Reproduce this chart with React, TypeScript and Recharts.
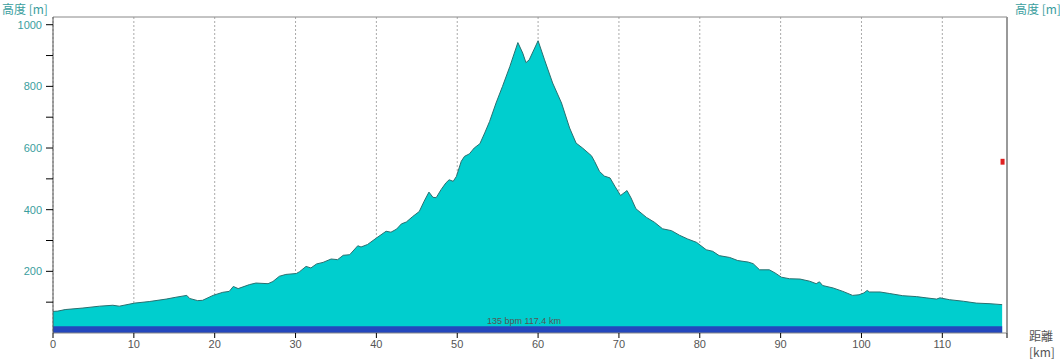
import React from 'react'
import {
  ComposedChart,
  Area,
  XAxis,
  YAxis,
  CartesianGrid,
  ReferenceArea,
  ReferenceLine,
} from 'recharts'

// distance along the route [km]
const distanceKm = [
  0, 0.6, 1.5, 3.7, 5.75, 7.4, 8.2, 10.1, 11.9, 14, 15.2, 16.55, 16.9, 17.9, 18.5,
  19.8, 21, 21.8, 22.3, 22.9, 24.3, 25.1, 26.6, 27.2, 28, 28.8, 30.1, 30.5,
  31.3, 31.9, 32.6, 33.4, 34.4, 35.2, 35.9, 36.7, 37.7, 38.1, 38.9, 40, 41.2,
  41.8, 42.5, 43.1, 43.7, 44.5, 45.3, 45.9, 46.5, 47, 47.4, 48, 48.6, 49, 49.5,
  49.9, 50.5, 50.9, 51.5, 52.1, 52.8, 53.4, 54, 54.8, 55.6, 56.5, 57.5, 58.1,
  58.5, 58.9, 60, 60.8, 61.8, 62.9, 63.9, 64.7, 65.5, 66.6, 67, 67.6, 68.2,
  68.9, 69.5, 70.2, 71, 71.5, 72.1, 73.4, 74.4, 75.4, 76.5, 77.5, 78.5, 79.6,
  80.8, 81.6, 82.4, 83.7, 84.7, 86, 86.6, 87.4, 88.6, 89.3, 90.1, 91.1, 92.4,
  93.6, 94.4, 94.8, 95.2, 96.5, 97.7, 98.9, 99.7, 100.3, 100.7, 101, 102.3,
  103.5, 105.1, 106.8, 108, 109.3, 109.7, 110.9, 112.6, 114.2, 115.9, 117.4,
]

// elevation [m]
const elevationM = [
  70, 71, 76, 81, 87, 90, 87, 97, 102, 110, 116, 122, 112, 105, 106,
  122, 132, 135, 151, 144, 157, 162, 160, 167, 184, 190, 193, 199,
  216, 211, 224, 229, 240, 238, 252, 254, 283, 279, 287, 308, 330,
  327, 337, 354, 360, 378, 394, 427, 457, 440, 439, 465, 487, 497, 492,
  508, 557, 573, 581, 600, 614, 649, 686, 746, 800, 864, 942, 908,
  877, 886, 948, 886, 811, 746, 665, 616, 600, 575, 556, 524, 509,
  503, 476, 446, 462, 438, 403, 375, 359, 338, 332, 317, 305, 294,
  270, 265, 251, 245, 235, 230, 225, 205, 205, 195, 181, 176, 175,
  168, 160, 166, 154, 146, 135, 122, 124, 130, 138, 133, 133,
  128, 121, 118, 114, 110, 114, 108, 103, 97, 95, 92,
]

const xTicks = [0, 10, 20, 30, 40, 50, 60, 70, 80, 90, 100, 110, 118]
const yTicks = [100, 200, 300, 400, 500, 600, 700, 800, 900, 1000]

const data = distanceKm.map((km, i) => ({ km, elev: elevationM[i] }))

const teal = '#3a9e9e'
const labelFont = '"Liberation Sans", Arial, sans-serif'
const cjkFont = '"Noto Sans CJK JP", sans-serif'

export default function App() {
  const yLabel = (v: number) => (v % 200 === 0 ? String(v) : '')

  return (
    <div style={{ position: 'absolute', left: 0, top: 0, width: 1060, height: 360, background: '#fff' }}>
      <ComposedChart
        width={1060}
        height={360}
        data={data}
        margin={{ top: 17, right: 0, bottom: 0, left: 0 }}
      >
        <CartesianGrid horizontal={false} stroke="#aaa" strokeDasharray="2 2" />
        <XAxis
          dataKey="km"
          type="number"
          domain={[0, 118]}
          ticks={xTicks}
          interval={0}
          height={27}
          tickFormatter={(v: number) => (v === 118 ? '' : String(v))}
          tickSize={5}
          tickMargin={2}
          stroke="#888"
          tickLine={{ stroke: '#000' }}
          tick={{ fill: '#555', fontSize: 11, fontFamily: labelFont }}
        />
        <YAxis
          yAxisId="left"
          domain={[0, 1025]}
          ticks={yTicks}
          interval={0}
          width={53}
          tickFormatter={yLabel}
          tickSize={7}
          tickMargin={4}
          stroke="#555"
          tickLine={{ stroke: '#000' }}
          tick={{ fill: teal, fontSize: 11, fontFamily: labelFont }}
        />
        <YAxis
          yAxisId="right"
          orientation="right"
          domain={[0, 1025]}
          ticks={yTicks}
          interval={0}
          width={53}
          tickFormatter={yLabel}
          tickSize={6}
          tickMargin={4}
          axisLine={{ stroke: '#999', strokeWidth: 2 }}
          tickLine={{ stroke: '#000' }}
          tick={{ fill: teal, fontSize: 11, fontFamily: labelFont, textAnchor: 'start' }}
        />
        <ReferenceLine yAxisId="left" y={1025} stroke="#888" />
        <Area
          yAxisId="left"
          type="linear"
          dataKey="elev"
          baseValue={0}
          fill="#00cece"
          fillOpacity={1}
          stroke="#2a7070"
          strokeWidth={1}
          isAnimationActive={false}
        />
        <ReferenceArea yAxisId="left" x1={0} x2={117.4} y1={0} y2={22} fill="#2347bd" fillOpacity={1} />
        <ReferenceArea yAxisId="left" x1={117.2} x2={117.7} y1={546} y2={565} fill="#e02020" fillOpacity={1} />
      </ComposedChart>

      <span style={{ position: 'absolute', left: 2, top: 0, fontSize: 12, color: teal, fontFamily: cjkFont, whiteSpace: 'nowrap' }}>
        高度 [m]
      </span>
      <span style={{ position: 'absolute', left: 1015, top: 0, fontSize: 12, color: teal, fontFamily: cjkFont, whiteSpace: 'nowrap' }}>
        高度 [m]
      </span>
      <span style={{ position: 'absolute', left: 1029, top: 328, fontSize: 12, lineHeight: '16px', color: '#555', fontFamily: cjkFont }}>
        距離<br />[km]
      </span>
      <span style={{ position: 'absolute', left: 487, top: 316, fontSize: 9, color: '#555', fontFamily: labelFont, whiteSpace: 'nowrap' }}>
        135 bpm 117.4 km
      </span>
    </div>
  )
}
